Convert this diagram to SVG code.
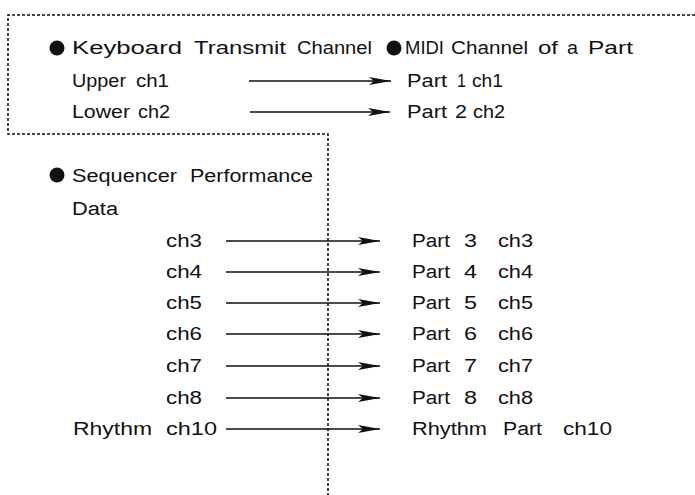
<svg xmlns="http://www.w3.org/2000/svg" width="695" height="495" viewBox="0 0 695 495">
<style>
text{font-family:"Liberation Sans",Arial,sans-serif;font-size:17.5px;fill:#111;}
.b text{font-size:18px;}
.dot{fill:none;stroke:#111;stroke-width:1.6;stroke-dasharray:3 2;}
.ln{stroke:#111;stroke-width:1.6;fill:none;}
</style>
<defs>
<marker id="ah" markerUnits="userSpaceOnUse" viewBox="0 0 22 9" refX="22" refY="4.5" markerWidth="22" markerHeight="9" orient="auto">
<path d="M0,0.5 L5,4.5 L0,8.5 L22,4.5 Z" fill="#111"/>
</marker>
</defs>
<rect width="695" height="495" fill="#fff"/>
<g id="boundary">
<polyline class="dot" points="695,15 8,15 8,134 328,134 328,495"/>
</g>
<g id="keyboard-head">
<circle cx="57" cy="48" r="7.5" fill="#111"/>
<text x="72" y="54" textLength="110" lengthAdjust="spacingAndGlyphs">Keyboard</text>
<text x="194" y="54" textLength="92" lengthAdjust="spacingAndGlyphs">Transmit</text>
<text x="297" y="54" textLength="75" lengthAdjust="spacingAndGlyphs">Channel</text>
</g>
<g id="midi-head">
<circle cx="394" cy="48" r="7.5" fill="#111"/>
<text x="405" y="54" textLength="39" lengthAdjust="spacingAndGlyphs">MIDI</text>
<text x="451" y="54" textLength="77" lengthAdjust="spacingAndGlyphs">Channel</text>
<text x="538" y="54" textLength="20" lengthAdjust="spacingAndGlyphs">of</text>
<text x="567" y="54" textLength="11" lengthAdjust="spacingAndGlyphs">a</text>
<text x="588" y="54" textLength="45" lengthAdjust="spacingAndGlyphs">Part</text>
</g>
<g id="upper">
<text x="72" y="87" textLength="54" lengthAdjust="spacingAndGlyphs">Upper</text>
<text x="136" y="87" textLength="33" lengthAdjust="spacingAndGlyphs">ch1</text>
</g>
<g id="lower">
<text x="72" y="118" textLength="58" lengthAdjust="spacingAndGlyphs">Lower</text>
<text x="138" y="118" textLength="32" lengthAdjust="spacingAndGlyphs">ch2</text>
</g>
<g id="part1">
<text x="407" y="87" textLength="40" lengthAdjust="spacingAndGlyphs">Part</text>
<text x="457" y="87" textLength="9" lengthAdjust="spacingAndGlyphs">1</text>
<text x="472" y="87" textLength="31" lengthAdjust="spacingAndGlyphs">ch1</text>
</g>
<g id="part2">
<text x="407" y="118" textLength="40" lengthAdjust="spacingAndGlyphs">Part</text>
<text x="455" y="118" textLength="12" lengthAdjust="spacingAndGlyphs">2</text>
<text x="473" y="118" textLength="32" lengthAdjust="spacingAndGlyphs">ch2</text>
</g>
<g id="sequencer-head" class="b">
<circle cx="57" cy="175" r="7.5" fill="#111"/>
<text x="72" y="182" textLength="105" lengthAdjust="spacingAndGlyphs">Sequencer</text>
<text x="190" y="182" textLength="123" lengthAdjust="spacingAndGlyphs">Performance</text>
<text x="72" y="215" textLength="46" lengthAdjust="spacingAndGlyphs">Data</text>
</g>
<g id="src" class="b">
<text id="src-ch3" x="166" y="247" textLength="36" lengthAdjust="spacingAndGlyphs">ch3</text>
<text id="src-ch4" x="166" y="278" textLength="36" lengthAdjust="spacingAndGlyphs">ch4</text>
<text id="src-ch5" x="166" y="309" textLength="36" lengthAdjust="spacingAndGlyphs">ch5</text>
<text id="src-ch6" x="166" y="340" textLength="36" lengthAdjust="spacingAndGlyphs">ch6</text>
<text id="src-ch7" x="166" y="372" textLength="36" lengthAdjust="spacingAndGlyphs">ch7</text>
<text id="src-ch8" x="166" y="404" textLength="36" lengthAdjust="spacingAndGlyphs">ch8</text>
<text x="73" y="435" textLength="79" lengthAdjust="spacingAndGlyphs">Rhythm</text>
<text x="166" y="435" textLength="51" lengthAdjust="spacingAndGlyphs">ch10</text>
</g>
<g id="dst" class="b">
<g id="part3"><text x="412" y="247" textLength="38" lengthAdjust="spacingAndGlyphs">Part</text><text x="464" y="247" textLength="13" lengthAdjust="spacingAndGlyphs">3</text><text x="498" y="247" textLength="35" lengthAdjust="spacingAndGlyphs">ch3</text></g>
<g id="part4"><text x="412" y="278" textLength="38" lengthAdjust="spacingAndGlyphs">Part</text><text x="464" y="278" textLength="13" lengthAdjust="spacingAndGlyphs">4</text><text x="498" y="278" textLength="35" lengthAdjust="spacingAndGlyphs">ch4</text></g>
<g id="part5"><text x="412" y="309" textLength="38" lengthAdjust="spacingAndGlyphs">Part</text><text x="464" y="309" textLength="13" lengthAdjust="spacingAndGlyphs">5</text><text x="498" y="309" textLength="35" lengthAdjust="spacingAndGlyphs">ch5</text></g>
<g id="part6"><text x="412" y="340" textLength="38" lengthAdjust="spacingAndGlyphs">Part</text><text x="464" y="340" textLength="13" lengthAdjust="spacingAndGlyphs">6</text><text x="498" y="340" textLength="35" lengthAdjust="spacingAndGlyphs">ch6</text></g>
<g id="part7"><text x="412" y="372" textLength="38" lengthAdjust="spacingAndGlyphs">Part</text><text x="464" y="372" textLength="13" lengthAdjust="spacingAndGlyphs">7</text><text x="498" y="372" textLength="35" lengthAdjust="spacingAndGlyphs">ch7</text></g>
<g id="part8"><text x="412" y="404" textLength="38" lengthAdjust="spacingAndGlyphs">Part</text><text x="464" y="404" textLength="13" lengthAdjust="spacingAndGlyphs">8</text><text x="498" y="404" textLength="35" lengthAdjust="spacingAndGlyphs">ch8</text></g>
<g id="rhythm-part"><text x="412" y="435" textLength="75" lengthAdjust="spacingAndGlyphs">Rhythm</text><text x="503" y="435" textLength="39" lengthAdjust="spacingAndGlyphs">Part</text><text x="563" y="435" textLength="49" lengthAdjust="spacingAndGlyphs">ch10</text></g>
</g>
<g id="connectors">
<line class="ln" x1="249" y1="81" x2="391" y2="81" marker-end="url(#ah)"/>
<line class="ln" x1="250" y1="112" x2="390" y2="112" marker-end="url(#ah)"/>
<line class="ln" x1="226" y1="241" x2="380" y2="241" marker-end="url(#ah)"/>
<line class="ln" x1="226" y1="272" x2="380" y2="272" marker-end="url(#ah)"/>
<line class="ln" x1="226" y1="303" x2="380" y2="303" marker-end="url(#ah)"/>
<line class="ln" x1="226" y1="334" x2="380" y2="334" marker-end="url(#ah)"/>
<line class="ln" x1="226" y1="366" x2="380" y2="366" marker-end="url(#ah)"/>
<line class="ln" x1="226" y1="398" x2="380" y2="398" marker-end="url(#ah)"/>
<line class="ln" x1="226" y1="429" x2="380" y2="429" marker-end="url(#ah)"/>
</g>
</svg>
